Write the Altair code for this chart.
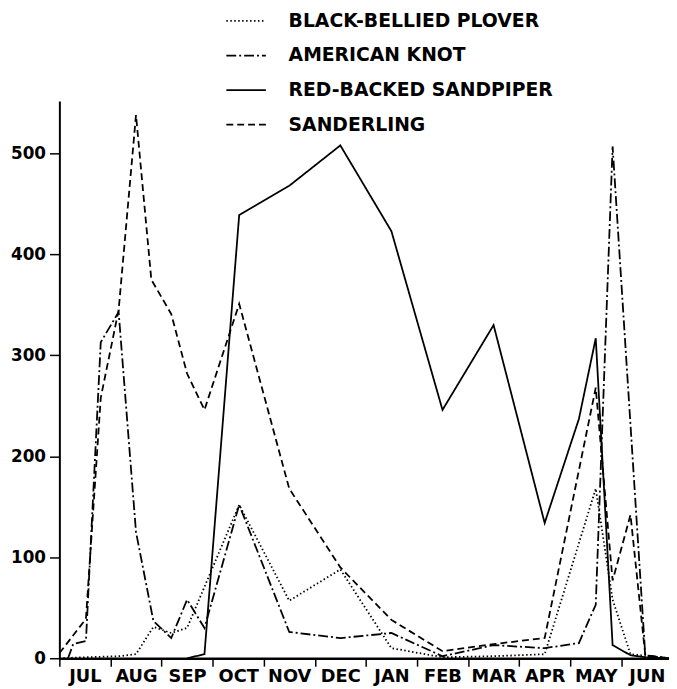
import json
import altair as alt
import pandas as pd

# ---- data ----
months = ["JUL", "AUG", "SEP", "OCT", "NOV", "DEC", "JAN", "FEB", "MAR", "APR", "MAY", "JUN"]
species = ["BLACK-BELLIED PLOVER", "AMERICAN KNOT", "RED-BACKED SANDPIPER", "SANDERLING"]

# time positions in months counted from 1 July
plover_t = [0.0, 0.52, 1.16, 1.5, 1.84, 2.19, 2.5, 3.52, 4.5, 5.5, 6.5, 7.5, 8.5, 9.5, 10.5, 10.83, 11.18, 11.93]
plover_n = [0, 1, 2, 4, 31, 25, 30, 152, 57, 88, 10, 1, 2, 4, 168, 58, 4, 0]

knot_t = [0.17, 0.27, 0.52, 0.81, 1.16, 1.5, 1.84, 2.19, 2.5, 2.84, 3.52, 4.5, 5.5, 6.5, 7.5, 8.5, 9.5, 10.17, 10.5, 10.83, 11.47, 11.93]
knot_n = [0, 14, 17, 313, 343, 125, 37, 20, 58, 30, 152, 26, 20, 25, 2, 13, 10, 15, 53, 507, 3, 0]

sandpiper_t = [2.5, 2.84, 3.52, 4.5, 5.5, 6.5, 7.5, 8.5, 9.5, 10.17, 10.5, 10.83, 11.18, 11.47, 11.93]
sandpiper_n = [0, 4, 439, 468, 508, 423, 246, 330, 134, 237, 317, 13, 3, 1, 0]

sanderling_t = [0.0, 0.52, 0.81, 1.16, 1.5, 1.8, 2.19, 2.5, 2.84, 3.52, 4.5, 5.5, 6.5, 7.5, 8.5, 9.5, 10.5, 10.83, 11.18, 11.47, 11.93]
sanderling_n = [5, 39, 258, 345, 538, 375, 341, 282, 246, 351, 168, 90, 38, 7, 14, 20, 268, 77, 142, 3, 0]

y_ticks = [0, 100, 200, 300, 400, 500]

# ---- table ----
rows = []
for name, ts, ns in [
    (species[0], plover_t, plover_n),
    (species[1], knot_t, knot_n),
    (species[2], sandpiper_t, sandpiper_n),
    (species[3], sanderling_t, sanderling_n),
]:
    for t, n in zip(ts, ns):
        rows.append({"species": name, "t": t, "n": n})
df = pd.DataFrame(rows)

dash_range = [[1.5, 2.5], [10, 3, 2, 3], [1, 0], [7, 4]]

x_vals = [i * 0.5 for i in range(24)]
label_expr = "datum.value % 1 ? " + json.dumps(months) + "[floor(datum.value)] : ''"

FONT = "DejaVu Sans"

chart = (
    alt.Chart(df)
    .mark_line(color="black", strokeWidth=1.8)
    .encode(
        x=alt.X(
            "t:Q",
            scale=alt.Scale(domain=[0, 11.934], nice=False, zero=False),
            axis=alt.Axis(
                title=None,
                values=x_vals,
                labelExpr=label_expr,
                tickOpacity={"condition": {"test": "datum.value % 1 === 0", "value": 1}, "value": 0},
                tickSize=8,
                labelPadding=2,
                labelFontSize=18,
                labelOverlap=False,
                labelFlush=False,
                labelBound=False,
                grid=False,
                domainWidth=2.5,
            ),
        ),
        y=alt.Y(
            "n:Q",
            scale=alt.Scale(domain=[0, 552], nice=False),
            axis=alt.Axis(
                title=None,
                values=y_ticks,
                tickSize=10,
                labelPadding=4,
                grid=False,
                domainWidth=2,
            ),
        ),
        strokeDash=alt.StrokeDash(
            "species:N",
            scale=alt.Scale(domain=species, range=dash_range),
            legend=alt.Legend(
                title=None,
                orient="none",
                legendX=178,
                legendY=-92,
                symbolType="M-2,0L2,0",
                symbolSize=400,
                symbolStrokeWidth=1.8,
                symbolStrokeColor="black",
                labelFont=FONT,
                labelFontWeight="bold",
                labelFontSize=19,
                labelColor="black",
                labelOffset=32,
                labelLimit=0,
                rowPadding=14,
                padding=0,
            ),
        ),
        order="t:Q",
    )
    .properties(
        width=617,
        height=564,
        padding={"left": 52, "top": 90, "right": 0, "bottom": 26},
        autosize=alt.AutoSizeParams(type="none"),
        background="white",
    )
    .configure_view(stroke=None)
    .configure_axis(
        domainColor="black",
        tickColor="black",
        tickWidth=1.5,
        labelColor="black",
        labelFont=FONT,
        labelFontWeight="bold",
        labelFontSize=17,
    )
)

chart.save("out.html", embed_options={"renderer": "svg", "actions": False})
